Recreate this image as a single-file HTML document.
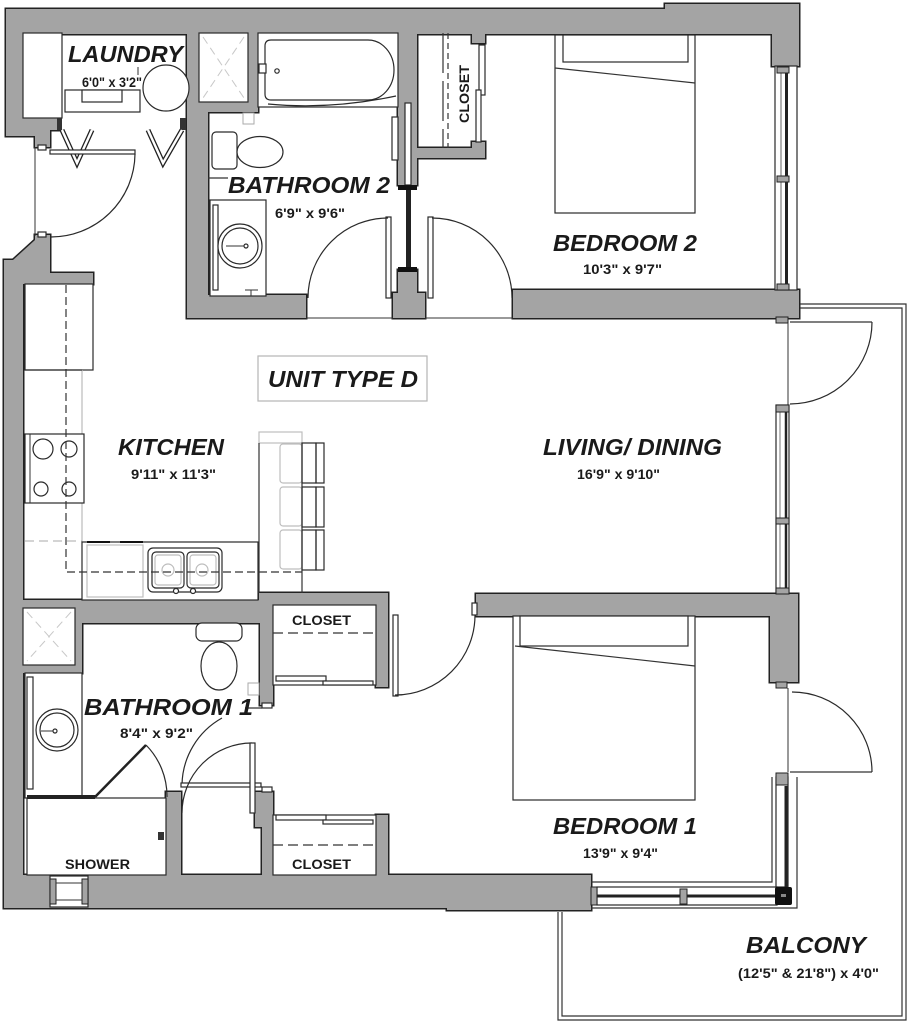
<!DOCTYPE html>
<html><head><meta charset="utf-8"><style>
html,body{margin:0;padding:0;background:#fff;}
svg{display:block}
text{font-family:"Liberation Sans",Arial,sans-serif;font-weight:bold;fill:#1a1a1a}
.r{font-style:italic;font-size:23px}
.d{font-size:13.5px}
.f{fill:none;stroke:#2a2a2a;stroke-width:1.2}
.w{fill:#fff;stroke:#2a2a2a;stroke-width:1.2}
.lg{fill:none;stroke:#bdbdbd;stroke-width:1.2}
.g{fill:#a4a4a4;stroke:#222;stroke-width:1}
</style></head><body>
<svg width="911" height="1024" viewBox="0 0 911 1024" xmlns="http://www.w3.org/2000/svg">
<defs>
<g id="walls">
<rect x="6" y="9" width="793" height="25"/>
<rect x="665" y="4" width="134" height="30"/>
<rect x="772" y="4" width="27" height="62"/>
<rect x="6" y="9" width="17" height="127"/>
<polygon points="6,118 60,118 60,130 50,130 50,147 35,147 35,136 6,136"/>
<rect x="187" y="33" width="12" height="85"/>
<rect x="187" y="102" width="21" height="216"/>
<rect x="187" y="102" width="71" height="10"/>
<rect x="248" y="33" width="10" height="79"/>
<rect x="187" y="295" width="119" height="23"/>
<rect x="398" y="33" width="19" height="152"/>
<rect x="398" y="270" width="19" height="48"/>
<rect x="393" y="293" width="32" height="25"/>
<rect x="417" y="148" width="68" height="10"/>
<rect x="472" y="33" width="13" height="10"/>
<rect x="472" y="142" width="13" height="16"/>
<rect x="513" y="290" width="286" height="28"/>
<polygon points="35,235 50,235 50,273 93,273 93,284 23,284 23,908 4,908 4,260 13,260 35,240"/>
<rect x="4" y="600" width="256" height="23"/>
<rect x="4" y="600" width="78" height="73"/>
<rect x="259" y="593" width="129" height="12"/>
<rect x="260" y="593" width="13" height="112"/>
<rect x="376" y="593" width="12" height="94"/>
<rect x="255" y="792" width="18" height="35"/>
<rect x="262" y="792" width="11" height="116"/>
<rect x="376" y="815" width="12" height="60"/>
<rect x="166" y="792" width="15" height="83"/>
<rect x="4" y="875" width="587" height="33"/>
<rect x="447" y="875" width="144" height="35"/>
<rect x="476" y="594" width="322" height="22"/>
<rect x="770" y="594" width="28" height="88"/>
</g>
</defs>
<use href="#walls" fill="#a4a4a4" stroke="#222" stroke-width="3"/>
<use href="#walls" fill="#a4a4a4" stroke="none"/>

<!-- entry edge line -->
<line x1="35" y1="147" x2="35" y2="236" stroke="#333" stroke-width="1"/>
<line x1="306" y1="318" x2="393" y2="318" stroke="#333" stroke-width="1"/>
<line x1="425" y1="318" x2="513" y2="318" stroke="#333" stroke-width="1"/>

<!-- LAUNDRY -->
<rect x="23" y="33" width="39" height="85" class="w"/>
<rect x="65" y="90" width="75" height="22" class="w"/>
<rect x="82" y="90" width="40" height="12" class="w"/>
<line x1="138" y1="67" x2="138" y2="75" stroke="#333"/>
<circle cx="166" cy="88" r="23" class="w"/>
<rect x="57" y="118" width="5" height="12" fill="#333"/>
<rect x="180" y="118" width="6" height="12" fill="#333"/>
<polyline points="62,130 77,163 92,130" fill="none" stroke="#222" stroke-width="5"/>
<polyline points="62,130 77,163 92,130" fill="none" stroke="#fff" stroke-width="2.4"/>
<polyline points="148,130 163,163 182,130" fill="none" stroke="#222" stroke-width="5"/>
<polyline points="148,130 163,163 182,130" fill="none" stroke="#fff" stroke-width="2.4"/>
<!-- entry closet door -->
<rect x="50" y="150" width="85" height="4" class="w"/>
<path d="M135 154 A84 84 0 0 1 50 237" class="f"/>
<rect x="38" y="145" width="8" height="5" class="w"/>
<rect x="38" y="232" width="8" height="5" class="w"/>

<!-- linen bath2 -->
<rect x="199" y="33" width="49" height="69" class="w"/>
<path d="M203 37 L244 98 M244 37 L203 98" stroke="#c8c8c8" stroke-width="1" stroke-dasharray="8,5"/>

<!-- BATH 2 -->
<rect x="258" y="33" width="140" height="74" class="w"/>
<path d="M271 40 H368 A26 30 0 0 1 368 100 H271 Q265 100 265 94 V46 Q265 40 271 40 Z" class="f"/>
<path d="M268 104 Q330 110 396 96" class="f"/>
<rect x="259" y="64" width="7" height="9" class="w"/>
<circle cx="277" cy="71" r="2.2" class="f"/>
<rect x="243" y="113" width="11" height="11" fill="#fff" stroke="#aaa"/>
<rect x="212" y="132" width="25" height="37" rx="4" class="w"/>
<ellipse cx="260" cy="152" rx="23" ry="15.5" class="w"/>
<line x1="208" y1="178" x2="228" y2="178" stroke="#333" stroke-width="1.2"/>
<rect x="210" y="200" width="56" height="96" class="w"/>
<rect x="213" y="205" width="5" height="85" class="w"/>
<circle cx="240" cy="246" r="22" class="w"/>
<circle cx="240" cy="246" r="18" class="f"/>
<circle cx="246" cy="246" r="2" class="f"/>
<line x1="226" y1="246" x2="244" y2="246" stroke="#333"/>
<line x1="245" y1="290" x2="258" y2="290" stroke="#333"/>
<line x1="251" y1="290" x2="251" y2="296" stroke="#333"/>
<rect x="392" y="117" width="6" height="43" class="w"/>
<!-- partition slot -->
<rect x="405" y="103" width="6" height="82" class="w"/>
<rect x="398" y="185" width="19" height="5" fill="#111"/>
<rect x="406" y="190" width="5" height="78" fill="#222"/>
<rect x="398" y="267" width="19" height="5" fill="#111"/>
<!-- bath2 door -->
<rect x="386" y="217" width="5" height="81" class="w"/>
<path d="M388 218 A80 80 0 0 0 308 298" class="f"/>
<!-- bedroom2 door -->
<rect x="428" y="217" width="5" height="81" class="w"/>
<path d="M432 218 A80 80 0 0 1 512 298" class="f"/>

<!-- bedroom2 closet -->
<line x1="443" y1="33" x2="443" y2="148" stroke="#333" stroke-width="1.2" stroke-dasharray="40,8"/>
<line x1="448" y1="33" x2="448" y2="148" stroke="#333" stroke-width="1.2" stroke-dasharray="6,4"/>
<rect x="479" y="45" width="6" height="50" class="w"/>
<rect x="476" y="90" width="5" height="52" class="w"/>

<!-- bedroom2 bed -->
<rect x="555" y="35" width="140" height="178" class="w"/>
<rect x="563" y="35" width="125" height="27" class="w"/>
<line x1="555" y1="68" x2="695" y2="83" stroke="#333" stroke-width="1.2"/>

<!-- bedroom2 window -->
<rect x="775" y="66" width="22" height="224" class="w"/>
<line x1="781" y1="70" x2="781" y2="286" stroke="#666" stroke-width="1"/>
<line x1="786.5" y1="70" x2="786.5" y2="286" stroke="#222" stroke-width="3"/>
<rect x="777" y="67" width="12" height="6" class="g"/>
<rect x="777" y="176" width="12" height="6" class="g"/>
<rect x="777" y="284" width="12" height="6" class="g"/>

<!-- living window + door -->
<rect x="776" y="317" width="12" height="6" class="g"/>
<line x1="788" y1="323" x2="788" y2="405" stroke="#333" stroke-width="1"/>
<line x1="790" y1="322" x2="872" y2="322" stroke="#333" stroke-width="1.2"/>
<path d="M872 322 A82 82 0 0 1 790 404" class="f"/>
<rect x="776" y="405" width="13" height="188" class="w"/>
<line x1="780" y1="408" x2="780" y2="590" stroke="#777" stroke-width="1"/>
<line x1="786" y1="408" x2="786" y2="590" stroke="#222" stroke-width="2.5"/>
<rect x="776" y="405" width="13" height="7" class="g"/>
<rect x="776" y="518" width="13" height="6" class="g"/>
<rect x="776" y="588" width="13" height="6" class="g"/>

<!-- balcony railing -->
<polyline points="800,304 906,304 906,1020 558,1020 558,912" fill="none" stroke="#333" stroke-width="1.2"/>
<polyline points="800,308 902,308 902,1016 562,1016 562,912" fill="none" stroke="#333" stroke-width="1.2"/>

<!-- KITCHEN -->
<rect x="25" y="284" width="68" height="86" class="w"/>
<line x1="82" y1="370" x2="82" y2="542" stroke="#bbb" stroke-width="1.2"/>
<line x1="25" y1="370" x2="82" y2="370" stroke="#333" stroke-width="1.2"/>
<line x1="25" y1="541" x2="82" y2="541" stroke="#bbb" stroke-width="1.2" stroke-dasharray="9,5"/>
<rect x="25" y="434" width="59" height="69" class="w"/>
<line x1="30" y1="434" x2="30" y2="503" stroke="#333" stroke-width="1"/>
<circle cx="43" cy="449" r="10" class="f"/>
<circle cx="69" cy="449" r="8" class="f"/>
<circle cx="41" cy="489" r="7" class="f"/>
<circle cx="69" cy="489" r="7" class="f"/>
<rect x="82" y="542" width="176" height="58" fill="#fff" stroke="#2a2a2a" stroke-width="1.2"/>
<rect x="87" y="545" width="56" height="52" class="lg"/>
<line x1="87" y1="542" x2="110" y2="542" stroke="#111" stroke-width="2"/>
<line x1="120" y1="542" x2="143" y2="542" stroke="#111" stroke-width="2"/>
<rect x="148" y="548" width="74" height="44" rx="5" class="w"/>
<rect x="152" y="552" width="32" height="36" rx="4" class="f"/>
<rect x="155" y="555" width="26" height="30" rx="3" class="lg"/>
<rect x="187" y="552" width="32" height="36" rx="4" class="f"/>
<rect x="190" y="555" width="26" height="30" rx="3" class="lg"/>
<circle cx="168" cy="570" r="6" class="lg"/>
<circle cx="202" cy="570" r="6" class="lg"/>
<circle cx="176" cy="591" r="2.5" class="w"/>
<circle cx="193" cy="591" r="2.5" class="w"/>
<polyline points="66,285 66,572 302,572" fill="none" stroke="#333" stroke-width="1.2" stroke-dasharray="8,4"/>
<!-- peninsula -->
<rect x="259" y="432" width="43" height="11" class="lg"/>
<line x1="259" y1="443" x2="259" y2="593" stroke="#333" stroke-width="1.2"/>
<line x1="302" y1="443" x2="302" y2="593" stroke="#333" stroke-width="1.2"/>
<rect x="280" y="444" width="22" height="39" rx="3" class="lg"/>
<rect x="280" y="487" width="22" height="39" rx="3" class="lg"/>
<rect x="280" y="530" width="22" height="39" rx="3" class="lg"/>
<g class="f">
<rect x="302" y="443" width="14" height="40"/><rect x="316" y="443" width="8" height="40"/>
<rect x="302" y="487" width="14" height="40"/><rect x="316" y="487" width="8" height="40"/>
<rect x="302" y="530" width="14" height="40"/><rect x="316" y="530" width="8" height="40"/>
</g>

<!-- UNIT TYPE D -->
<rect x="258" y="356" width="169" height="45" fill="none" stroke="#b5b5b5" stroke-width="1.2"/>

<!-- BATH 1 -->
<rect x="23" y="608" width="52" height="57" class="w"/>
<path d="M27 612 L71 661 M71 612 L27 661" stroke="#c8c8c8" stroke-width="1" stroke-dasharray="8,5"/>
<rect x="196" y="623" width="46" height="18" rx="6" class="w"/>
<ellipse cx="219" cy="666" rx="18" ry="24" class="w"/>
<rect x="248" y="683" width="11" height="12" fill="#fff" stroke="#aaa"/>
<rect x="25" y="673" width="57" height="125" class="w"/>
<rect x="27" y="677" width="6" height="112" class="w"/>
<circle cx="57" cy="730" r="21" class="w"/>
<circle cx="57" cy="730" r="17" class="f"/>
<circle cx="55" cy="731" r="2" class="f"/>
<line x1="41" y1="731" x2="53" y2="731" stroke="#333"/>
<!-- shower -->
<rect x="27" y="798" width="139" height="77" class="w"/>
<line x1="27" y1="797" x2="95" y2="797" stroke="#222" stroke-width="4"/>
<line x1="95" y1="797" x2="146" y2="745" stroke="#222" stroke-width="2.5"/>
<path d="M146 745 A73 73 0 0 1 167 797" class="f"/>
<rect x="158" y="832" width="6" height="8" fill="#333"/>
<!-- bath1 doors -->
<line x1="245" y1="708" x2="262" y2="708" stroke="#333" stroke-width="1.2"/>
<path d="M182 785 A78 78 0 0 1 222 718" class="f"/>
<rect x="181" y="783" width="80" height="4" class="w"/>
<path d="M252 743 A70 70 0 0 0 182 813" class="f"/>
<rect x="250" y="743" width="5" height="70" class="w"/>
<rect x="262" y="703" width="10" height="5" class="w"/>
<rect x="262" y="787" width="10" height="5" class="w"/>
<!-- closets -->
<rect x="273" y="605" width="103" height="80" class="w"/>
<line x1="273" y1="633" x2="376" y2="633" stroke="#333" stroke-width="1.2" stroke-dasharray="10,5"/>
<rect x="276" y="676" width="50" height="5" class="w"/>
<rect x="323" y="681" width="50" height="4" class="w"/>
<rect x="273" y="815" width="103" height="60" class="w"/>
<rect x="276" y="815" width="50" height="5" class="w"/>
<rect x="323" y="820" width="50" height="4" class="w"/>
<line x1="273" y1="845" x2="376" y2="845" stroke="#333" stroke-width="1.2" stroke-dasharray="10,5"/>

<!-- bedroom1 door -->
<rect x="393" y="615" width="5" height="81" class="w"/>
<path d="M395 695 A80 80 0 0 0 475 615" class="f"/>
<rect x="472" y="603" width="5" height="12" class="w"/>
<!-- bedroom1 bed -->
<rect x="513" y="616" width="182" height="184" class="w"/>
<rect x="520" y="616" width="168" height="30" class="w"/>
<line x1="515" y1="646" x2="695" y2="666" stroke="#333" stroke-width="1.2"/>

<!-- bedroom1 right door + windows -->
<rect x="776" y="682" width="11" height="6" class="g"/>
<line x1="788" y1="688" x2="788" y2="772" stroke="#333" stroke-width="1"/>
<line x1="790" y1="772" x2="872" y2="772" stroke="#333" stroke-width="1.2"/>
<path d="M792 692 A80 80 0 0 1 872 772" class="f"/>
<polyline points="591,882 772,882 772,777" fill="none" stroke="#333" stroke-width="1.2"/>
<polyline points="591,908 797,908 797,777" fill="none" stroke="#333" stroke-width="1.2"/>
<rect x="776" y="777" width="12" height="110" class="w"/>
<line x1="786" y1="786" x2="786" y2="887" stroke="#222" stroke-width="3"/>
<rect x="597" y="887" width="180" height="18" class="w"/>
<line x1="597" y1="896" x2="777" y2="896" stroke="#222" stroke-width="3"/>
<rect x="591" y="887" width="6" height="18" class="g"/>
<rect x="680" y="889" width="7" height="15" class="g"/>
<rect x="776" y="773" width="12" height="12" class="g"/>
<rect x="775" y="887" width="17" height="18" rx="2" fill="#111"/>
<rect x="781" y="894" width="5" height="3" fill="#888"/>

<!-- bottom-left window -->
<rect x="50" y="876" width="38" height="31" class="w"/>
<rect x="50" y="879" width="6" height="25" class="g"/>
<rect x="82" y="879" width="6" height="25" class="g"/>
<line x1="56" y1="883" x2="82" y2="883" stroke="#333"/>
<line x1="56" y1="900" x2="82" y2="900" stroke="#333"/>

<!-- TEXT -->
<text class="r" x="68" y="62" textLength="115" lengthAdjust="spacingAndGlyphs">LAUNDRY</text>
<text class="d" x="82" y="87" textLength="60" lengthAdjust="spacingAndGlyphs">6'0" x 3'2"</text>
<text class="r" x="228" y="193" textLength="162" lengthAdjust="spacingAndGlyphs">BATHROOM 2</text>
<text class="d" x="275" y="218" textLength="70" lengthAdjust="spacingAndGlyphs">6'9" x 9'6"</text>
<text class="d" font-size="13" transform="translate(469,94) rotate(-90)" text-anchor="middle" textLength="58" lengthAdjust="spacingAndGlyphs">CLOSET</text>
<text class="r" x="553" y="251" textLength="144" lengthAdjust="spacingAndGlyphs">BEDROOM 2</text>
<text class="d" x="583" y="274" textLength="79" lengthAdjust="spacingAndGlyphs">10'3" x 9'7"</text>
<text class="r" x="268" y="387" textLength="150" lengthAdjust="spacingAndGlyphs">UNIT TYPE D</text>
<text class="r" x="118" y="455" textLength="106" lengthAdjust="spacingAndGlyphs">KITCHEN</text>
<text class="d" x="131" y="479" textLength="85" lengthAdjust="spacingAndGlyphs">9'11" x 11'3"</text>
<text class="r" x="543" y="455" textLength="179" lengthAdjust="spacingAndGlyphs">LIVING/ DINING</text>
<text class="d" x="577" y="479" textLength="83" lengthAdjust="spacingAndGlyphs">16'9" x 9'10"</text>
<text class="d" x="292" y="625" textLength="59" lengthAdjust="spacingAndGlyphs">CLOSET</text>
<text class="r" x="84" y="715" textLength="169" lengthAdjust="spacingAndGlyphs">BATHROOM 1</text>
<text class="d" x="120" y="738" textLength="73" lengthAdjust="spacingAndGlyphs">8'4" x 9'2"</text>
<text class="d" x="65" y="869" textLength="65" lengthAdjust="spacingAndGlyphs">SHOWER</text>
<text class="d" x="292" y="869" textLength="59" lengthAdjust="spacingAndGlyphs">CLOSET</text>
<text class="r" x="553" y="834" textLength="144" lengthAdjust="spacingAndGlyphs">BEDROOM 1</text>
<text class="d" x="583" y="858" textLength="75" lengthAdjust="spacingAndGlyphs">13'9" x 9'4"</text>
<text class="r" x="746" y="953" textLength="120" lengthAdjust="spacingAndGlyphs">BALCONY</text>
<text class="d" x="738" y="978" textLength="141" lengthAdjust="spacingAndGlyphs">(12'5" &amp; 21'8") x 4'0"</text>
</svg>
</body></html>
